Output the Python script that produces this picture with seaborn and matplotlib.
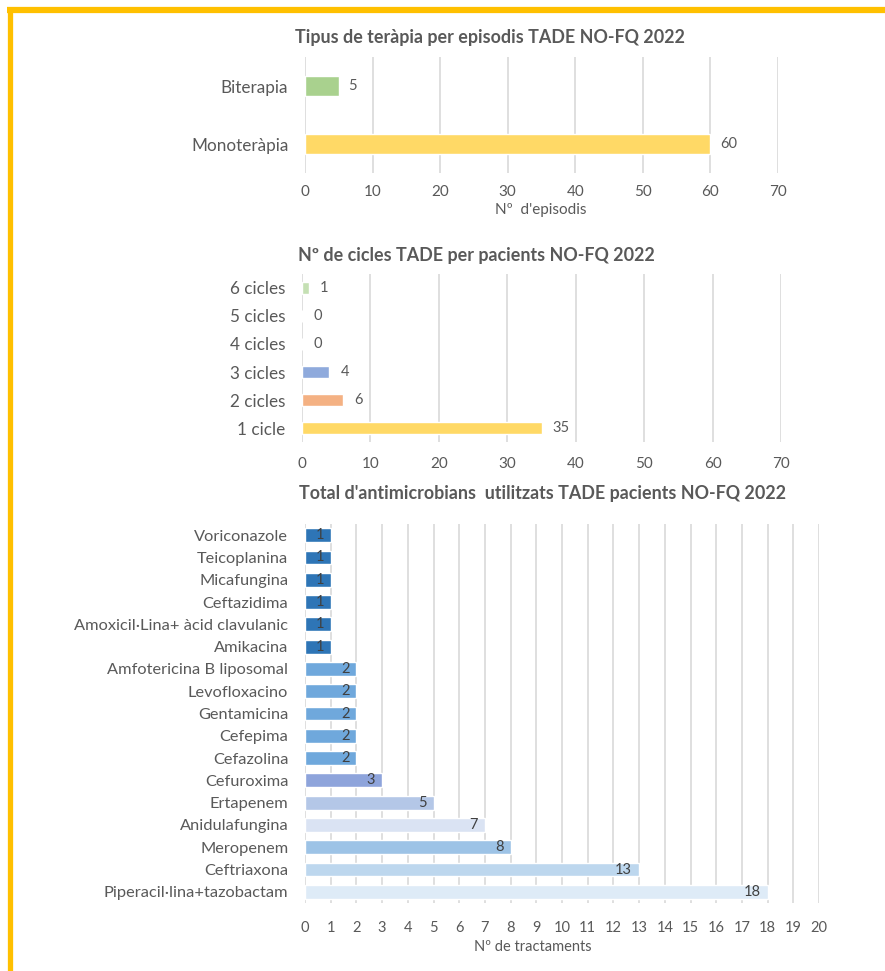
import matplotlib
matplotlib.use("Agg")
import matplotlib.pyplot as plt
import seaborn as sns
import pandas as pd
from matplotlib.lines import Line2D

# ---------------- data ----------------
terapia_cats = ["Biterapia", "Monoteràpia"]
terapia_vals = [5, 60]
terapia_colors = ["#A9D18E", "#FFD966"]

cicles_cats = ["6 cicles", "5 cicles", "4 cicles", "3 cicles", "2 cicles", "1 cicle"]
cicles_vals = [1, 0, 0, 4, 6, 35]
cicles_colors = ["#C5E0B4", "#A5A5A5", "#5B9BD5", "#8FAADC", "#F4B183", "#FFD966"]

abx_cats = ["Voriconazole", "Teicoplanina", "Micafungina", "Ceftazidima",
            "Amoxicil·Lina+ àcid clavulanic", "Amikacina", "Amfotericina B liposomal",
            "Levofloxacino", "Gentamicina", "Cefepima", "Cefazolina", "Cefuroxima",
            "Ertapenem", "Anidulafungina", "Meropenem", "Ceftriaxona",
            "Piperacil·lina+tazobactam"]
abx_vals = [1, 1, 1, 1, 1, 1, 2, 2, 2, 2, 2, 3, 5, 7, 8, 13, 18]
abx_colors = ["#2E75B6"] * 6 + ["#6FA8DC"] * 5 + ["#8EA4DB", "#B4C7E7", "#DAE3F3",
              "#9DC3E6", "#BDD7EE", "#DEEBF7"]

# ---------------- style ----------------
sns.set_style("white")
plt.rcParams["font.family"] = ["Lato", "DejaVu Sans"]
GREY = "#595959"
GRID = "#D9D9D9"

W, H = 885, 971
fig = plt.figure(figsize=(W / 100, H / 100), dpi=100)


def px_axes(left, top, right, bottom):
    return fig.add_axes([left / W, 1 - bottom / H, (right - left) / W, (bottom - top) / H])


def style_ax(ax, xmax, step, tick_fs, ylab_fs, xpad):
    ax.set_xlim(0, xmax)
    ax.set_xticks(range(0, xmax + 1, step))
    ax.grid(axis="x", color=GRID, linewidth=1.2)
    ax.grid(axis="y", visible=False)
    ax.set_axisbelow(True)
    for s in ax.spines.values():
        s.set_visible(False)
    ax.tick_params(axis="x", length=0, pad=xpad, labelsize=tick_fs, labelcolor=GREY)
    ax.tick_params(axis="y", length=0, pad=12, labelsize=ylab_fs, labelcolor=GREY)
    ax.set_ylabel("")
    ax.set_xlabel("")


# ---- chart 1 ----
ax1 = px_axes(305, 57, 778, 173)
df1 = pd.DataFrame({"cat": terapia_cats, "val": terapia_vals})
sns.barplot(data=df1, y="cat", x="val", hue="cat", palette=terapia_colors,
            legend=False, width=0.36, ax=ax1, orient="h", saturation=1)
style_ax(ax1, 70, 10, 11, 12.3, 9)
for c in ax1.containers:
    ax1.bar_label(c, padding=7, color=GREY, fontsize=10.5)
ax1.set_ylim(1.5, -0.5)
fig.text(541 / W, 1 - 210 / H, "Nº  d'episodis", ha="center", va="center",
         color=GREY, fontsize=11)
fig.text(490 / W, 1 - 37 / H, "Tipus de teràpia per episodis TADE NO-FQ 2022",
         ha="center", va="center", color=GREY, fontsize=12.9, fontweight="bold")

# ---- chart 2 ----
ax2 = px_axes(302, 274, 781, 442)
df2 = pd.DataFrame({"cat": cicles_cats, "val": cicles_vals})
sns.barplot(data=df2, y="cat", x="val", hue="cat", palette=cicles_colors,
            legend=False, width=0.4, ax=ax2, orient="h", saturation=1)
style_ax(ax2, 70, 10, 11, 12.3, 11)
for c in ax2.containers:
    ax2.bar_label(c, padding=8, color=GREY, fontsize=10.5)
ax2.set_ylim(5.5, -0.5)
fig.text(476 / W, 1 - 255 / H, "Nº de cicles TADE per pacients NO-FQ 2022",
         ha="center", va="center", color=GREY, fontsize=12.9, fontweight="bold")

# ---- chart 3 ----
ax3 = px_axes(305, 524, 819, 903)
df3 = pd.DataFrame({"cat": abx_cats, "val": abx_vals})
sns.barplot(data=df3, y="cat", x="val", hue="cat", palette=abx_colors,
            legend=False, width=0.62, ax=ax3, orient="h", saturation=1)
style_ax(ax3, 20, 1, 10.5, 11.8, 13)
for i, v in enumerate(abx_vals):
    ax3.annotate(str(v), xy=(v, i), xytext=(-5, 0), textcoords="offset points",
                 ha="right", va="center", color="#404040", fontsize=10.5)
ax3.set_ylim(16.5, -0.5)
fig.text(533 / W, 1 - 947 / H, "Nº de tractaments", ha="center", va="center",
         color=GREY, fontsize=10.5)
fig.text(543 / W, 1 - 493 / H, "Total d'antimicrobians  utilitzats TADE pacients NO-FQ 2022",
         ha="center", va="center", color=GREY, fontsize=12.9, fontweight="bold")

# ---- frame ----
fig.add_artist(Line2D([7 / W, 1], [1 - 10 / H, 1 - 10 / H], transform=fig.transFigure,
                      color="#FFC000", linewidth=4.5, solid_capstyle="butt"))
fig.add_artist(Line2D([9.5 / W, 9.5 / W], [0, 1 - 7 / H], transform=fig.transFigure,
                      color="#FFC000", linewidth=3.8, solid_capstyle="butt"))

fig.savefig("out.png", dpi=100)
